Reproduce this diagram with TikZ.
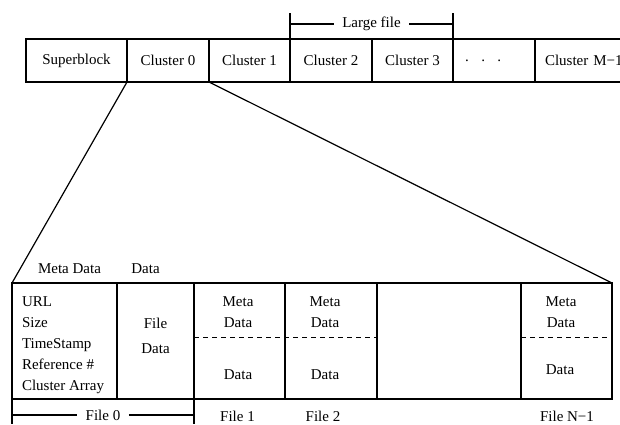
\documentclass[tikz,border=0pt]{standalone}
\usepackage{fontspec}
\setmainfont{Liberation Serif}
\usetikzlibrary{calc}
\begin{document}
\begin{tikzpicture}[x=1pt,y=-1pt,
  line width=1.2pt,
  every node/.style={font=\fontsize{15}{18}\selectfont, inner sep=0pt, outer sep=0pt},
  cell/.style={draw, anchor=north west, minimum height=43pt},
  col/.style={draw, anchor=north west, minimum height=116pt},
  txt/.style={anchor=base},
  sep/.style={dash pattern=on 5pt off 4pt, line width=1pt}]
\useasboundingbox (0,0) rectangle (620,424);

% disk layout: superblock followed by clusters
\node[cell, minimum width=101pt] (sb) at (26,39) {Superblock};
\node[cell, minimum width=82pt] (c0) at (127,39) {Cluster 0};
\node[cell, minimum width=81pt] (c1) at (209,39) {Cluster 1};
\node[cell, minimum width=82pt] (c2) at (290,39) {Cluster 2};
\node[cell, minimum width=81pt] (c3) at (372,39) {Cluster 3};
\node[cell, text width=58pt, align=left, inner xsep=12pt] (cd) at (453,39)
  {.\hspace{12.5pt}.\hspace{12.5pt}.};
\node[cell, text width=90pt, align=left, inner xsep=10pt] (cm) at (535,39) {Cluster M−1};

% a large file spanning clusters 2 and 3
\coordinate (lfL) at (290,24);
\coordinate (lfR) at (453,24);
\node[inner xsep=8.5pt] (lf) at (371.5,24) {Large file};
\draw (c2.north west) -- ++(0,-26);
\draw (c3.north east) -- ++(0,-26);
\draw (lfL) -- (lf.west);
\draw (lf.east) -- (lfR);

% contents of one cluster
\node[col, minimum width=105pt] (md) at (12,283) {};
\node[col, minimum width=77pt] (fd) at (117,283) {};
\node[col, minimum width=91pt] (f1) at (194,283) {};
\node[col, minimum width=92pt] (f2) at (285,283) {};
\node[col, minimum width=144pt] (fe) at (377,283) {};
\node[col, minimum width=91pt] (fn) at (521,283) {};

% zoom lines from cluster 0
\draw (c0.south west) -- (md.north west);
\draw (c0.south east) -- (fn.north east);

% meta data / data separators
\draw[sep] ($(f1.north west)+(0,54)$) -- ($(f2.north east)+(0,54)$);
\draw[sep] ($(fn.north west)+(0,54)$) -- ($(fn.north east)+(0,54)$);

% column headings
\node[txt] (hmd) at (69.5,273) {Meta Data};
\node[txt] (hd) at (145.5,273) {Data};

% file 0 meta data fields
\node[anchor=base west] (mu) at (22,306) {URL};
\node[anchor=base west] (ms) at (22,327) {Size};
\node[anchor=base west] (mt) at (22,348) {TimeStamp};
\node[anchor=base west] (mr) at (22,369) {Reference \#};
\node[anchor=base west] (ma) at (22,390) {Cluster Array};

\node[txt] (fdf) at (155.5,328) {File};
\node[txt] (fdd) at (155.5,353) {Data};

% files 1, 2 and N-1
\node[txt] (f1m) at (238,306) {Meta};
\node[txt] (f1d) at (238,327) {Data};
\node[txt] (f1x) at (238,379) {Data};
\node[txt] (f2m) at (325,306) {Meta};
\node[txt] (f2d) at (325,327) {Data};
\node[txt] (f2x) at (325,379) {Data};
\node[txt] (fnm) at (561,306) {Meta};
\node[txt] (fnd) at (561,327) {Data};
\node[txt] (fnx) at (560,374) {Data};

% file labels
\draw (md.south west) -- ++(0,25);
\draw (f1.south west) -- ++(0,25);
\coordinate (f0L) at (12,415);
\coordinate (f0R) at (194,415);
\node[inner xsep=8.5pt] (f0) at (103,415) {File 0};
\draw (f0L) -- (f0.west);
\draw (f0.east) -- (f0R);
\node[txt] (l1) at (237.5,421) {File 1};
\node[txt] (l2) at (323,421) {File 2};
\node[txt] (ln) at (567,421) {File N−1};
\end{tikzpicture}
\end{document}
